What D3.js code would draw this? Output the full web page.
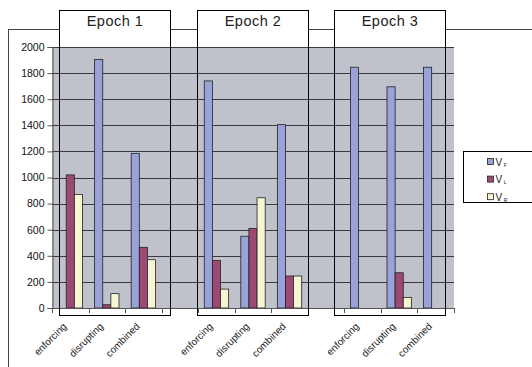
<!DOCTYPE html>
<html>
<head>
<meta charset="utf-8">
<script src="https://cdn.jsdelivr.net/npm/d3@7"></script>
<style>
  html, body { margin: 0; padding: 0; background: #fff; }
  svg { display: block; font-family: Arial, "Liberation Sans", sans-serif; }
</style>
</head>
<body>
<svg id="chart" width="532" height="367"></svg>
<script>
// Category slots along the x axis (blank slots separate the epochs)
const slots = ["e1-enforcing", "e1-disrupting", "e1-combined", "gap1",
               "e2-enforcing", "e2-disrupting", "e2-combined", "gap2",
               "e3-enforcing", "e3-disrupting", "e3-combined"];
const slotLabels = ["enforcing", "disrupting", "combined", "",
                    "enforcing", "disrupting", "combined", "",
                    "enforcing", "disrupting", "combined"];
const epochs = ["Epoch 1", "Epoch 2", "Epoch 3"];
const seriesNames = ["F", "L", "R"];

// Values per series, one entry per slot (null = empty slot)
const vF = [0, 1905, 1185, null, 1740, 550, 1405, null, 1845, 1695, 1845];
const vL = [1020, 25, 465, null, 365, 610, 245, null, 0, 270, 0];
const vR = [870, 110, 370, null, 145, 845, 245, null, 0, 80, 0];

const yTicks = [0, 200, 400, 600, 800, 1000, 1200, 1400, 1600, 1800, 2000];

const colors = ["#9aa3d8", "#9c4a74", "#f7f5d2"];

const svg = d3.select("#chart");
const plot = { left: 52, right: 454, top: 47, bottom: 308 };

const x = d3.scaleBand().domain(slots).range([plot.left, plot.right]).paddingInner(0).paddingOuter(0);
const barW = x.bandwidth() / 4.5;   // three bars plus a 150% gap
const xs = d3.scaleBand().domain(seriesNames).range([0, barW * 3]);
const y = d3.scaleLinear().domain([0, 2000]).range([plot.bottom, plot.top]);

// chart area border
svg.append("rect")
  .attr("x", 8.5).attr("y", 29.5).attr("width", 600).attr("height", 400)
  .attr("fill", "none").attr("stroke", "#444").attr("stroke-width", 1);

// plot area
svg.append("rect")
  .attr("x", plot.left).attr("y", plot.top)
  .attr("width", plot.right - plot.left).attr("height", plot.bottom - plot.top)
  .attr("fill", "#c0c2cb");

// gridlines
svg.append("g").selectAll("line").data(yTicks.slice(1)).join("line")
  .attr("x1", plot.left).attr("x2", plot.right)
  .attr("y1", d => Math.round(y(d)) + 0.5).attr("y2", d => Math.round(y(d)) + 0.5)
  .attr("stroke", "#3a3a3a").attr("stroke-width", 1);

// bars
const series = [vF, vL, vR];
series.forEach((vals, si) => {
  svg.append("g").selectAll("rect")
    .data(vals.map((v, i) => ({ slot: slots[i], v })).filter(d => d.v !== null && d.v > 0))
    .join("rect")
    .attr("x", d => x(d.slot) + (x.bandwidth() - barW * 3) / 2 + xs(seriesNames[si]))
    .attr("width", barW)
    .attr("y", d => y(d.v))
    .attr("height", d => y(0) - y(d.v))
    .attr("fill", colors[si])
    .attr("stroke", "#222").attr("stroke-width", 0.8);
});

// y axis
const yAxis = d3.axisLeft(y).tickValues(yTicks).tickSize(5).tickPadding(3).tickFormat(d3.format("d"));
const gy = svg.append("g").attr("transform", `translate(${plot.left + 0.5},0)`).call(yAxis);
gy.select(".domain").attr("stroke", "#555");
gy.selectAll(".tick line").attr("stroke", "#555");
gy.selectAll("text").attr("font-size", "10.5px").attr("fill", "#111")
  .attr("font-family", "Arial, 'Liberation Sans', sans-serif");

// x axis line and slot boundary ticks
svg.append("line")
  .attr("x1", plot.left).attr("x2", plot.right)
  .attr("y1", y(0) + 0.5).attr("y2", y(0) + 0.5)
  .attr("stroke", "#555");
const bounds = slots.map(s => x(s)).concat([plot.right]);
svg.append("g").selectAll("line").data(bounds).join("line")
  .attr("x1", d => Math.round(d) + 0.5).attr("x2", d => Math.round(d) + 0.5)
  .attr("y1", y(0)).attr("y2", y(0) + 5)
  .attr("stroke", "#555");

// rotated category labels
svg.append("g").selectAll("text").data(slots.filter((s, i) => slotLabels[i] !== "")).join("text")
  .attr("transform", d => `translate(${x(d) + x.bandwidth() / 2 - 3},${y(0) + 19}) rotate(-45)`)
  .attr("text-anchor", "end")
  .attr("font-size", "10px")
  .attr("fill", "#222")
  .text(d => slotLabels[slots.indexOf(d)]);

// epoch frames with title boxes
const frameLeft = [59.5, 197.5, 334.5];
const frameW = 111, frameTop = 10.5, frameBottom = 315.5, titleH = 20;
epochs.forEach((name, i) => {
  const g = svg.append("g");
  g.append("rect")
    .attr("x", frameLeft[i]).attr("y", frameTop).attr("width", frameW).attr("height", titleH)
    .attr("fill", "#fff");
  g.append("rect")
    .attr("x", frameLeft[i]).attr("y", frameTop).attr("width", frameW).attr("height", frameBottom - frameTop)
    .attr("fill", "none").attr("stroke", "#000").attr("stroke-width", 1);
  g.append("text")
    .attr("x", frameLeft[i] + frameW / 2).attr("y", frameTop + 15)
    .attr("text-anchor", "middle").attr("font-size", "14.5px").attr("fill", "#222")
    .attr("letter-spacing", "0.5px")
    .text(name);
});

// legend
const lg = svg.append("g");
lg.append("rect")
  .attr("x", 463.5).attr("y", 151.5).attr("width", 80).attr("height", 51)
  .attr("fill", "#fff").attr("stroke", "#000").attr("stroke-width", 1);
seriesNames.forEach((s, i) => {
  const yy = 158.5 + i * 17.6;
  lg.append("rect")
    .attr("x", 487.5).attr("y", yy).attr("width", 6).attr("height", 6)
    .attr("fill", colors[i]).attr("stroke", "#222").attr("stroke-width", 0.8);
  const t = lg.append("text")
    .attr("x", 495.5).attr("y", yy + 7)
    .attr("font-size", "10px").attr("fill", "#222");
  t.append("tspan").text("V");
  t.append("tspan").attr("font-size", "5px").attr("dx", 1.5).attr("dy", 1).text(s);
});
</script>
</body>
</html>
